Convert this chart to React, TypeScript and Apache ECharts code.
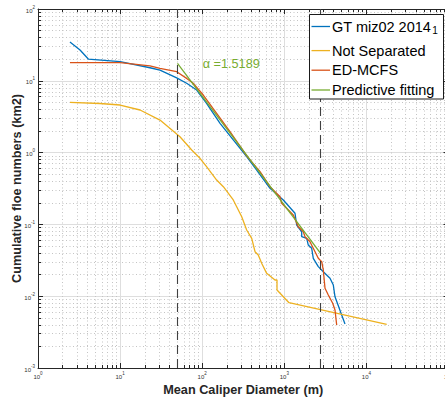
import React, { useEffect, useRef } from "react";
import * as echarts from "echarts";

// ---- data ----
const gtData: [number, number][] = [
  [2.45, 34.7], [3.25, 26.9], [4.1, 20.1], [10, 18.5], [23.1, 15.2], [30.6, 14.1],
  [48.9, 11.0], [64.7, 9.23], [85.7, 7.44], [113, 4.86], [165, 2.56], [239, 1.5],
  [348, 0.877], [461, 0.572], [670, 0.318], [972, 0.219], [1350, 0.143], [1416, 0.098],
  [1629, 0.079], [1629, 0.0674], [1874, 0.064], [1960, 0.0516], [2157, 0.0465],
  [2255, 0.0337], [2595, 0.0258], [2985, 0.0219], [3603, 0.0178], [3954, 0.0143],
  [4146, 0.0098], [5487, 0.0041],
];
const notSepData: [number, number][] = [
  [2.45, 5.02], [5.69, 4.83], [10, 4.6], [17.5, 3.92], [30.6, 2.84], [53.6, 1.665],
  [74.5, 1.087], [94, 0.833], [113, 0.636], [150, 0.415], [181, 0.335], [239, 0.219],
  [303, 0.128], [348, 0.0836], [401, 0.064], [440, 0.0417], [482, 0.0375], [530, 0.0287],
  [610, 0.0208], [770, 0.0168], [815, 0.0168], [815, 0.0122], [1141, 0.00812],
  [17675, 0.00406],
];
const edData: [number, number][] = [
  [2.45, 17.9], [10, 17.9], [23.1, 16.1], [30.6, 14.9], [48.9, 13.4], [64.7, 10.8],
  [77.9, 9.23], [103, 6.34], [150, 3.53], [218, 1.955], [354, 0.877], [506, 0.542],
  [670, 0.335], [886, 0.243], [930, 0.197], [1287, 0.135], [1481, 0.0929], [1704, 0.0791],
  [1787, 0.0674], [2056, 0.0574], [2255, 0.0465], [2595, 0.0337], [2855, 0.0302],
  [2985, 0.0232], [3132, 0.0129], [3435, 0.0104], [3886, 0.00796], [4146, 0.00642],
  [4346, 0.00397],
];
const fitData: [number, number][] = [[50, 17.5], [2770, 0.0396]];
const cutoffs = [50, 2770];
const alphaText = "α =1.5189";
const alphaAnchor: [number, number] = [100, 17];
const seriesNames = ["GT miz02 2014", "Not Separated", "ED-MCFS", "Predictive fitting"];
const legendSubscripts = ["1", "", "", ""];
const seriesColors = ["#0072BD", "#EDB120", "#D95319", "#77AC30"];
const xAxisName = "Mean Caliper Diameter (m)";
const yAxisName = "Cumulative floe numbers (km2)";
const xRange = [1, 100000];
const yRange = [0.001, 100];

const FONT = "'Liberation Sans', Arial, Helvetica, sans-serif";
const AXIS_COLOR = "#262626";

function powLabel(v: number) {
  const e = Math.round(Math.log10(v));
  return `{b|10}{s|${e}}`;
}

const tickRich = {
  b: { fontSize: 6, lineHeight: 9, verticalAlign: "bottom", color: "#333", fontFamily: FONT },
  s: { fontSize: 4.5, lineHeight: 9, verticalAlign: "top", color: "#333", fontFamily: FONT },
};

function makeAxis(kind: "x" | "y", main: boolean) {
  const range = kind === "x" ? xRange : yRange;
  return {
    type: "log",
    logBase: 10,
    min: range[0],
    max: range[1],
    position: kind === "x" ? (main ? "bottom" : "top") : main ? "left" : "right",
    name: main ? (kind === "x" ? xAxisName : yAxisName) : "",
    nameLocation: "middle",
    nameGap: 15,
    nameMoveOverlap: false,
    nameTextStyle: { fontFamily: FONT, fontSize: 12.7, fontWeight: "bold", color: "#262626" },
    axisLine: { show: true, lineStyle: { color: AXIS_COLOR, width: 1 } },
    axisTick: { show: true, inside: true, length: 5, lineStyle: { color: AXIS_COLOR } },
    minorTick: { show: true, splitNumber: 9, length: 3, lineStyle: { color: AXIS_COLOR } },
    axisLabel: main
      ? { show: true, formatter: powLabel, rich: tickRich, margin: 3 }
      : { show: false },
    splitLine: main ? { show: true, lineStyle: { color: "#dedede", width: 1 } } : { show: false },
    minorSplitLine: main
      ? { show: true, lineStyle: { color: "#c4c4c4", width: 1, type: [1, 2.5] } }
      : { show: false },
  };
}

// legend box layout (pixels)
const LEG = { x: 309.5, y: 14.5, w: 134, h: 84.5, lineX1: 311.5, lineX2: 330, textX: 332 };
const LEG_ROWS = [26.5, 50.6, 70.2, 90];

function buildLegend() {
  const children: any[] = [
    {
      type: "rect",
      shape: { x: LEG.x, y: LEG.y, width: LEG.w, height: LEG.h },
      style: { fill: "#ffffff", stroke: "#1a1a1a", lineWidth: 1 },
      z: 100,
    },
  ];
  seriesNames.forEach((name, i) => {
    const y = LEG_ROWS[i];
    children.push({
      type: "line",
      shape: { x1: LEG.lineX1, y1: y, x2: LEG.lineX2, y2: y },
      style: { stroke: seriesColors[i], lineWidth: 1.3 },
      z: 101,
    });
    const sub = legendSubscripts[i];
    children.push({
      type: "text",
      x: LEG.textX,
      y,
      style: {
        text: sub ? `{a|${name}}{s|${sub}}` : `{a|${name}}`,
        rich: {
          a: { fontSize: 14.5, lineHeight: 17, fontFamily: FONT, fill: "#000" },
          s: { fontSize: 10, lineHeight: 10, verticalAlign: "bottom", padding: [16, 0, 0, 1], fontFamily: FONT, fill: "#000" },
        },
        fill: "#000",
        align: "left",
        verticalAlign: "middle",
      },
      z: 101,
    });
  });
  return children;
}

export default function App() {
  const ref = useRef<HTMLDivElement>(null);
  useEffect(() => {
    if (!ref.current) return;
    const chart = echarts.init(ref.current, undefined, { renderer: "svg" });
    const lineSeries = (name: string, data: [number, number][], color: string, extra: any = {}) => ({
      name,
      type: "line",
      data,
      symbol: "none",
      showSymbol: false,
      lineStyle: { color, width: 1.3 },
      itemStyle: { color },
      silent: true,
      ...extra,
    });
    chart.setOption({
      animation: false,
      backgroundColor: "#ffffff",
      grid: { left: 38, top: 9, right: -3.5, bottom: 35, containLabel: false, outerBoundsMode: "none" },
      xAxis: [makeAxis("x", true), makeAxis("x", false)],
      yAxis: [makeAxis("y", true), makeAxis("y", false)],
      graphic: buildLegend(),
      series: [
        lineSeries(seriesNames[0], gtData, seriesColors[0]),
        lineSeries(seriesNames[1], notSepData, seriesColors[1]),
        lineSeries(seriesNames[2], edData, seriesColors[2]),
        lineSeries(seriesNames[3], fitData, seriesColors[3], {
          markPoint: {
            silent: true,
            symbol: "circle",
            symbolSize: 1,
            itemStyle: { color: "rgba(0,0,0,0)" },
            data: [
              {
                coord: alphaAnchor,
                label: {
                  show: true,
                  formatter: alphaText,
                  position: "right",
                  distance: 0,
                  color: seriesColors[3],
                  fontSize: 12.7,
                  fontFamily: FONT,
                },
              },
            ],
          },
          markLine: {
            silent: true,
            symbol: "none",
            label: { show: false },
            lineStyle: { color: "#404040", width: 1.1, type: [9, 5] },
            data: cutoffs.map((v) => ({ xAxis: v })),
          },
        }),
      ],
    });
    return () => chart.dispose();
  }, []);
  return (
    <div
      ref={ref}
      style={{ position: "fixed", left: 0, top: 0, width: 445, height: 403, background: "#fff" }}
    />
  );
}
